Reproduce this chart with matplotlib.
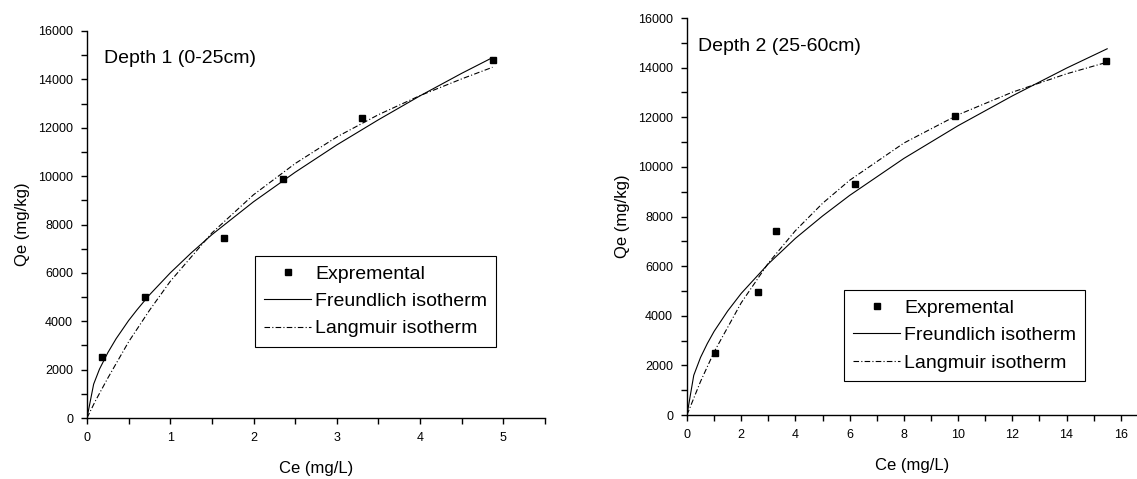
import matplotlib
matplotlib.use("Agg")
import matplotlib.pyplot as plt
from matplotlib.ticker import MultipleLocator

plt.rcParams["font.family"] = ["Liberation Sans", "DejaVu Sans"]

# ---- depth 1 (0-25 cm) ----
d1_ce = [0.18, 0.70, 1.65, 2.35, 3.30, 4.87]
d1_qe = [2520, 5000, 7440, 9900, 12400, 14800]
d1_fr_x = [0, 0.08, 0.15, 0.25, 0.35, 0.5, 0.6, 0.75, 1, 1.25, 1.5, 2, 2.5, 3, 3.5, 4, 4.5, 4.87]
d1_fr_y = [0, 1400, 2020, 2700, 3280, 4030, 4470, 5090, 6000, 6820, 7580, 8940, 10160, 11290,
           12330, 13320, 14250, 14900]
d1_la_x = [0, 0.1, 0.25, 0.5, 0.75, 1, 1.5, 2, 2.5, 3, 3.5, 4, 4.5, 4.87]
d1_la_y = [0, 700, 1650, 3150, 4450, 5650, 7650, 9230, 10520, 11620, 12540, 13330, 14020, 14500]

# ---- depth 2 (25-60 cm) ----
d2_ce = [1.05, 2.63, 3.27, 6.19, 9.87, 15.47]
d2_qe = [2480, 4940, 7400, 9300, 12040, 14250]
d2_fr_x = [0, 0.25, 0.5, 0.75, 1, 1.5, 2, 3, 4, 5, 6, 8, 10, 12, 14, 15.5]
d2_fr_y = [0, 1600, 2320, 2880, 3370, 4190, 4900, 6090, 7120, 8020, 8850, 10340, 11660, 12860,
           13980, 14760]
d2_la_x = [0, 0.5, 1, 2, 3, 4, 5, 6, 8, 10, 12, 14, 15.5]
d2_la_y = [0, 1350, 2540, 4520, 6120, 7430, 8530, 9460, 10960, 12100, 13010, 13750, 14220]

DASHDOT = (0, (5, 2, 1, 2))

fig = plt.figure(figsize=(11.37, 4.79), dpi=100)
ax1 = fig.add_axes([0.0765, 0.1273, 0.4028, 0.808])
ax2 = fig.add_axes([0.6042, 0.1336, 0.3958, 0.8288])

panels = [
    (ax1, d1_ce, d1_qe, d1_fr_x, d1_fr_y, d1_la_x, d1_la_y, "Depth 1 (0-25cm)",
     (0, 5.5), 1, 0.5, (0.037, 0.93), (0.367, 0.419)),
    (ax2, d2_ce, d2_qe, d2_fr_x, d2_fr_y, d2_la_x, d2_la_y, "Depth 2 (25-60cm)",
     (0, 16.6), 2, 1, (0.024, 0.927), (0.349, 0.315)),
]

for ax, ce, qe, fx, fy, lx, ly, title, xlim, xmaj, xmin, tpos, lpos in panels:
    ax.plot(ce, qe, ls="none", marker="s", ms=4.7, color="black", label="Expremental")
    ax.plot(fx, fy, color="black", lw=0.8, label="Freundlich isotherm")
    ax.plot(lx, ly, color="black", lw=0.8, ls=DASHDOT, label="Langmuir isotherm")
    ax.set_xlim(*xlim); ax.set_ylim(0, 16000)
    ax.xaxis.set_major_locator(MultipleLocator(xmaj))
    ax.xaxis.set_minor_locator(MultipleLocator(xmin))
    ax.yaxis.set_major_locator(MultipleLocator(2000))
    ax.yaxis.set_minor_locator(MultipleLocator(1000))
    for s in ("top", "right"):
        ax.spines[s].set_visible(False)
    for s in ("left", "bottom"):
        ax.spines[s].set_linewidth(1.0)
    ax.tick_params(which="both", direction="out", width=1.0, length=4, labelsize=9, pad=6)
    ax.set_xlabel("Ce (mg/L)", fontsize=12, labelpad=12)
    ax.set_ylabel("Qe (mg/kg)", fontsize=12, labelpad=6)
    ax.text(tpos[0], tpos[1], title, transform=ax.transAxes, fontsize=14, va="center", ha="left")
    leg = ax.legend(loc="upper left", bbox_to_anchor=lpos, borderaxespad=0, fontsize=14,
                    frameon=True, fancybox=False, edgecolor="black", framealpha=1,
                    handlelength=2.4, handletextpad=0.2, labelspacing=0.5, borderpad=0.48)
    leg.get_frame().set_linewidth(0.8)

fig.savefig("out.png", dpi=100)
